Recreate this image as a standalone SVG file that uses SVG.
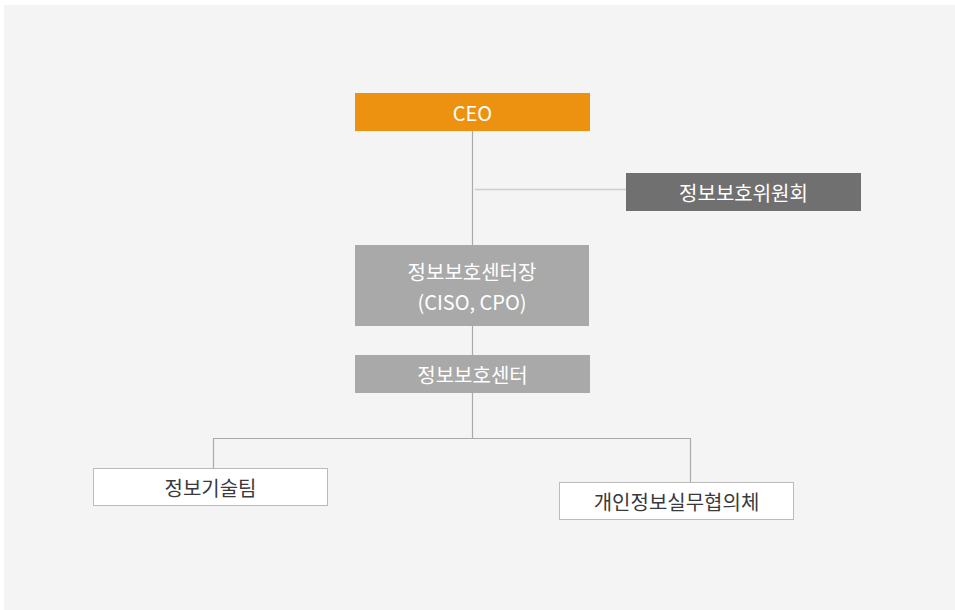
<svg xmlns="http://www.w3.org/2000/svg" width="955" height="610" viewBox="0 0 955 610">
<style>
.t{font-family:"Noto Sans CJK KR","Noto Sans",sans-serif;font-size:20px;text-anchor:middle;dominant-baseline:central}
.w{fill:#ffffff}
.d{fill:#3a3a3a}
.ln{stroke:#aaaaaa;stroke-width:1.2;fill:none}
</style>
<rect x="4" y="5" width="951" height="605" fill="#f4f4f4"/>
<g id="connectors">
<line class="ln" x1="472.5" y1="131" x2="472.5" y2="245"/>
<line x1="475" y1="189.5" x2="626" y2="189.5" stroke="#cccccc" stroke-width="1.5"/>
<line class="ln" x1="472.5" y1="326" x2="472.5" y2="355"/>
<polyline class="ln" points="472.5,393 472.5,438"/>
<polyline class="ln" points="213.5,468 213.5,438.5 690.5,438.5 690.5,482"/>
</g>
<g id="ceo">
<rect x="355" y="93" width="235" height="38" fill="#ec9210"/>
<text class="t w" x="472.5" y="112">CEO</text>
</g>
<g id="committee">
<rect x="626" y="173" width="235" height="38" fill="#707070"/>
<text class="t w" x="743.5" y="192">정보보호위원회</text>
</g>
<g id="ciso">
<rect x="355" y="245" width="234" height="81" fill="#a8a9a8"/>
<text class="t w" x="472" y="271">정보보호센터장</text>
<text class="t w" x="472" y="301">(CISO, CPO)</text>
</g>
<g id="center">
<rect x="355" y="355" width="235" height="38" fill="#a8a9a8"/>
<text class="t w" x="472.5" y="374">정보보호센터</text>
</g>
<g id="tech">
<rect x="93.5" y="468.5" width="234" height="37" fill="#ffffff" stroke="#bbbbbb" stroke-width="1"/>
<text class="t d" x="210.5" y="487">정보기술팀</text>
</g>
<g id="privacy">
<rect x="559.5" y="482.5" width="234" height="37" fill="#ffffff" stroke="#bbbbbb" stroke-width="1"/>
<text class="t d" x="676.5" y="501">개인정보실무협의체</text>
</g>
</svg>
